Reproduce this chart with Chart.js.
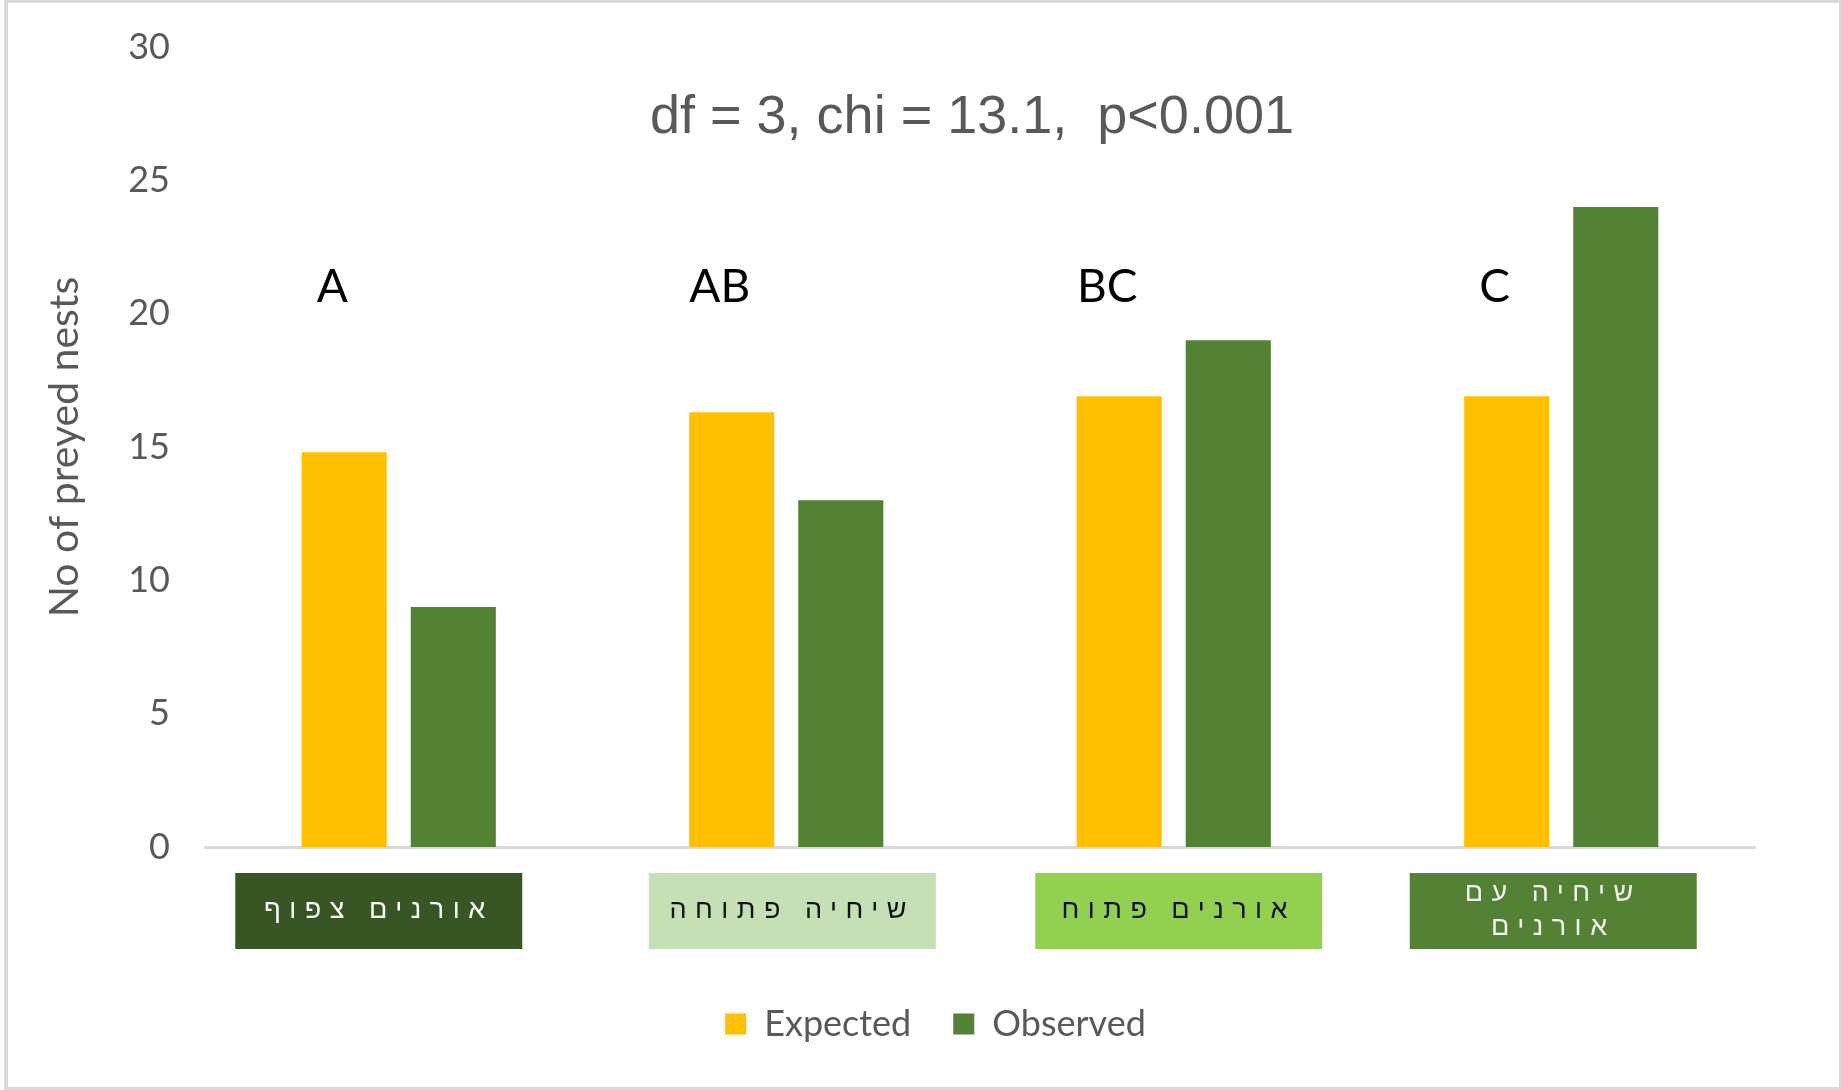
<!DOCTYPE html>
<html>
<head>
<meta charset="utf-8">
<title>Preyed nests</title>
<script src="https://cdn.jsdelivr.net/npm/chart.js@4.4.1/dist/chart.umd.min.js"></script>
<style>
    html, body { margin: 0; padding: 0; background: #fff; }
    .chart-wrap { position: relative; width: 1841px; height: 1090px; }
</style>
</head>
<body>
<div class="chart-wrap"><canvas id="bar_chart"></canvas></div>
<script>
var categories = ["אורנים צפוף", "שיחיה פתוחה", "אורנים פתוח", "שיחיה עם אורנים"];
var categoryLines = [["אורנים צפוף"], ["שיחיה פתוחה"], ["אורנים פתוח"], ["שיחיה עם", "אורנים"]];
var expectedValues = [14.8, 16.3, 16.9, 16.9];
var observedValues = [9, 13, 19, 24];
var groupLetters = ["A", "AB", "BC", "C"];
var yTicks = [0, 5, 10, 15, 20, 25, 30];
var statsText = "df = 3, chi = 13.1,  p<0.001";

var boxColors = ['#375623', '#C5E0B4', '#92D050', '#548235'];
var boxTextColors = ['#ffffff', '#111111', '#111111', '#f2f2f2'];

// frame, stats line, group letters and coloured category boxes
var decorations = {
    id: 'decorations',
    beforeDraw: function (chart) {
        var ctx = chart.ctx;
        ctx.save();
        ctx.fillStyle = '#ffffff';
        ctx.fillRect(0, 0, chart.width, chart.height);
        ctx.strokeStyle = '#d9d9d9';
        ctx.lineWidth = 4;
        ctx.strokeRect(6, 1, chart.width - 6, chart.height - 2);
        ctx.restore();
    },
    afterLayout: function (chart) {
        // excel centres the legend a bit to the right
        chart.legend.left += 58;
        chart.legend.right += 58;
    },
    afterDraw: function (chart) {
        var ctx = chart.ctx;
        var area = chart.chartArea;
        var x = chart.scales.x;
        var y = chart.scales.y;
        var bars = chart.getDatasetMeta(0).data;

        ctx.save();
        ctx.textAlign = 'center';
        ctx.textBaseline = 'middle';

        ctx.fillStyle = '#595959';
        ctx.font = '54px "Liberation Sans", Arial, sans-serif';
        ctx.fillText(statsText, (area.left + area.right) / 2 - 8, y.getPixelForValue(27.35));

        ctx.fillStyle = '#000000';
        ctx.font = '46px Lato, sans-serif';
        for (var i = 0; i < groupLetters.length; i++) {
            ctx.fillText(groupLetters[i], bars[i].x - 12, y.getPixelForValue(21.0));
        }

        // the boxes sit a little off the category centres in the original
        var boxShift = [-20, 6, 5, -8];
        var boxW = 287, boxH = 76, boxTop = area.bottom + 26;
        ctx.font = '27px "Liberation Sans", Arial, sans-serif';
        ctx.direction = 'rtl';
        ctx.letterSpacing = '8.5px';
        for (var j = 0; j < categoryLines.length; j++) {
            var cx = x.getPixelForValue(j) + boxShift[j];
            ctx.fillStyle = boxColors[j];
            ctx.fillRect(cx - boxW / 2, boxTop, boxW, boxH);
            ctx.fillStyle = boxTextColors[j];
            var lines = categoryLines[j];
            var lh = 34;
            var startY = boxTop + boxH / 2 - (lines.length - 1) * lh / 2;
            for (var k = 0; k < lines.length; k++) {
                ctx.fillText(lines[k], cx, startY + k * lh);
            }
        }
        ctx.restore();
    }
};

function getChartJs() {
    return {
        type: 'bar',
        data: {
            labels: categories,
            datasets: [{
                label: "Expected",
                data: expectedValues,
                backgroundColor: '#FFC000',
                categoryPercentage: 0.563,
                barPercentage: 0.78
            }, {
                label: "Observed",
                data: observedValues,
                backgroundColor: '#548235',
                categoryPercentage: 0.563,
                barPercentage: 0.78
            }]
        },
        options: {
            responsive: true,
            maintainAspectRatio: false,
            animation: false,
            layout: { padding: { top: 47, right: 86, bottom: 38, left: 0 } },
            plugins: {
                legend: {
                    position: 'bottom',
                    labels: {
                        boxWidth: 21,
                        boxHeight: 21,
                        padding: 42,
                        color: '#595959',
                        font: { family: 'Lato', size: 36 }
                    }
                },
                tooltip: { enabled: false }
            },
            scales: {
                x: {
                    grid: { display: false, drawTicks: false },
                    border: { color: '#d9d9d9', width: 3 },
                    ticks: { display: false },
                    afterFit: function (scale) { scale.height = 117; }
                },
                y: {
                    min: 0,
                    max: 30,
                    afterBuildTicks: function (scale) {
                        scale.ticks = yTicks.map(function (v) { return { value: v }; });
                    },
                    grid: { display: false },
                    border: { display: false },
                    ticks: {
                        padding: 27,
                        color: '#595959',
                        font: { family: 'Lato', size: 36 }
                    },
                    title: {
                        display: true,
                        text: 'No of preyed nests',
                        color: '#595959',
                        padding: { top: 40, bottom: 0 },
                        font: { family: 'Lato', size: 41 }
                    },
                    afterFit: function (scale) {
                        scale.width = 205;
                        // tick padding should not push the plot down
                        scale.paddingTop = 20;
                        scale.paddingBottom = 20;
                    }
                }
            }
        },
        plugins: [decorations]
    };
}

new Chart(document.getElementById("bar_chart").getContext("2d"), getChartJs());
</script>
</body>
</html>
